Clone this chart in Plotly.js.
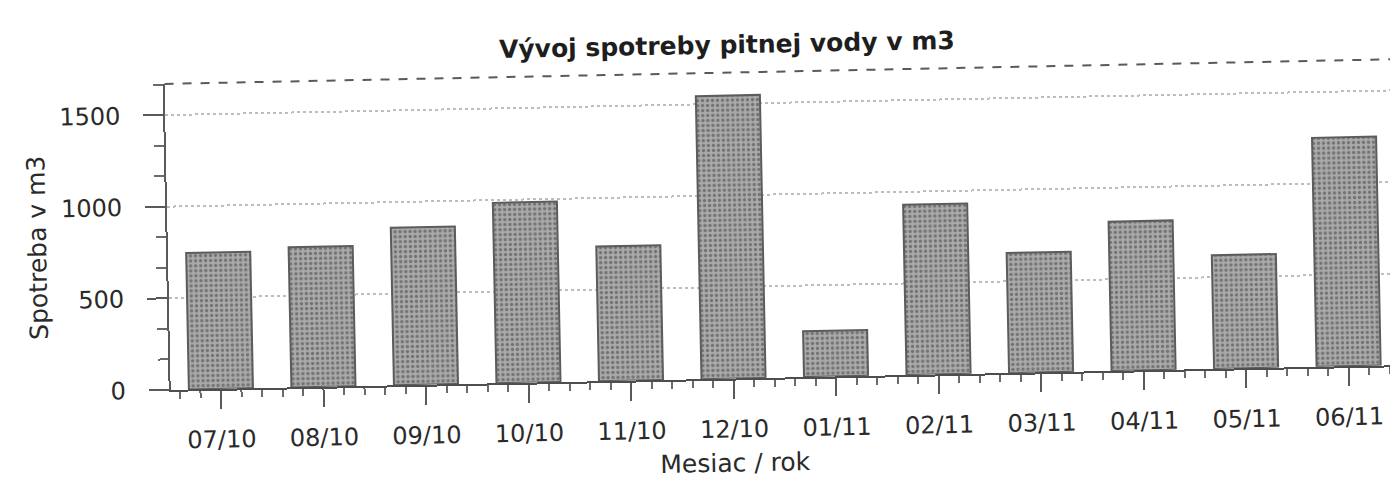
<!DOCTYPE html>
<html>
<head>
<meta charset="utf-8">
<script src="https://cdn.plot.ly/plotly-3.0.1.min.js"></script>
<style>
  html, body { margin: 0; padding: 0; background: #ffffff; width: 1390px; height: 477px; overflow: hidden; }
  #chart { position: absolute; left: 0; top: 0; width: 1420px; height: 500px;
           transform: rotate(-1.15deg); transform-origin: 710px 250px; }
</style>
</head>
<body>
<div id="chart"></div>
<script>
// Data
const months = ["07/10","08/10","09/10","10/10","11/10","12/10","01/11","02/11","03/11","04/11","05/11","06/11"];
const consumption = [745, 765, 860, 985, 735, 1545, 250, 930, 655, 815, 620, 1250];
const yTicks = [0, 500, 1000, 1500];
const chartTitle = "Vývoj spotreby pitnej vody v m3";
const xTitle = "Mesiac / rok";
const yTitle = "Spotreba v m3";

const positions = months.map((m, i) => i);

const trace = {
  type: "bar",
  x: positions,
  y: consumption,
  width: 0.625,
  marker: {
    color: "#aaaaaa",
    line: { color: "#5c5c5c", width: 2 },
    pattern: { shape: ".", fgcolor: "#737373", bgcolor: "#aaaaaa", size: 5, solidity: 0.35, fillmode: "replace" }
  },
  hoverinfo: "x+y"
};

const W = 1420, H = 500;
const layout = {
  width: W, height: H,
  paper_bgcolor: "#ffffff",
  plot_bgcolor: "#ffffff",
  margin: { l: 168, r: 0, t: 73, b: 121 },
  showlegend: false,
  font: { family: "DejaVu Sans", color: "#2a2a2a" },
  title: {
    text: chartTitle,
    font: { family: "DejaVu Sans", size: 25, weight: 700, color: "#1e1e1e" },
    x: 731 / W, xref: "container", xanchor: "center",
    y: 1 - 45 / H, yref: "container", yanchor: "middle"
  },
  xaxis: {
    type: "linear",
    range: [-0.49, 11.72],
    tickmode: "array",
    tickvals: positions,
    ticktext: months,
    ticks: "outside", ticklen: 18, tickwidth: 2, tickcolor: "#5a5a5a",
    ticklabelstandoff: 10,
    tickfont: { family: "DejaVu Sans", size: 24, color: "#2a2a2a" },
    minor: { dtick: 0.2, tick0: 0, ticks: "outside", ticklen: 7, tickwidth: 2, tickcolor: "#6a6a6a", showgrid: false },
    showline: true, linecolor: "#4e4e4e", linewidth: 2,
    showgrid: false, zeroline: false,
    automargin: false
  },
  yaxis: {
    range: [0, 1670],
    tickmode: "array",
    tickvals: yTicks,
    ticktext: yTicks.map(String),
    ticks: "outside", ticklen: 20, tickwidth: 2, tickcolor: "#5a5a5a",
    ticklabelstandoff: 18,
    tickfont: { family: "DejaVu Sans", size: 24, color: "#2a2a2a" },
    minor: { dtick: 500 / 3, tick0: 0, ticks: "outside", ticklen: 10, tickwidth: 2, tickcolor: "#6a6a6a", showgrid: false },
    showline: true, linecolor: "#5a5a5a", linewidth: 2,
    showgrid: true, gridcolor: "#bdbdbd", gridwidth: 2, griddash: "dot",
    zeroline: false,
    automargin: false
  },
  annotations: [
    { text: xTitle, xref: "paper", yref: "paper", x: 0.45, y: -0.276,
      xanchor: "center", yanchor: "middle", showarrow: false,
      font: { family: "DejaVu Sans", size: 25, color: "#2a2a2a" } },
    { text: yTitle, xref: "paper", yref: "paper", x: -0.104, y: 0.472,
      xanchor: "center", yanchor: "middle", textangle: -90, showarrow: false,
      font: { family: "DejaVu Sans", size: 25, color: "#2a2a2a" } }
  ],
  shapes: [
    { type: "line", xref: "paper", yref: "paper", x0: 0, x1: 1, y0: 1, y1: 1,
      line: { color: "#5a5a5a", width: 2, dash: "dash" } }
  ],
  bargap: 0.375
};

Plotly.newPlot("chart", [trace], layout, { displayModeBar: false, staticPlot: true });
</script>
</body>
</html>
